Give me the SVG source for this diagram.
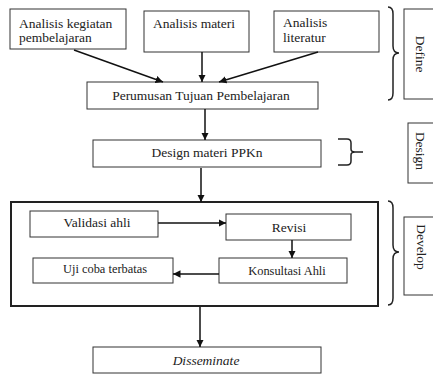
<svg xmlns="http://www.w3.org/2000/svg" width="433" height="374" viewBox="0 0 433 374">
<defs>
<marker id="ah" viewBox="0 0 10 10" refX="10" refY="5" markerWidth="5" markerHeight="5" orient="auto" markerUnits="strokeWidth">
<path d="M0,0 L10,5 L0,10 z" fill="#111"/>
</marker>
<style>
.box{fill:#fff;stroke:#333;stroke-width:1}
.big{fill:none;stroke:#222;stroke-width:2}
.t{font-family:"Liberation Serif","Times New Roman",serif;font-size:13.5px;fill:#222}
.s{font-size:12.4px}
.c{text-anchor:middle}
.arr{stroke:#111;stroke-width:1.5;fill:none;marker-end:url(#ah)}
.br{stroke:#222;stroke-width:1.5;fill:none}
</style>
</defs>
<rect width="433" height="374" fill="#fff"/>

<g id="analisis-kegiatan">
<rect class="box" x="10" y="9" width="116" height="40"/>
<text class="t" x="19" y="28">Analisis kegiatan</text>
<text class="t" x="19" y="42">pembelajaran</text>
</g>
<g id="analisis-materi">
<rect class="box" x="144" y="11" width="105" height="41"/>
<text class="t" x="153" y="28">Analisis materi</text>
</g>
<g id="analisis-literatur">
<rect class="box" x="274" y="11" width="105" height="41"/>
<text class="t" x="283" y="27">Analisis</text>
<text class="t" x="283" y="42">literatur</text>
</g>
<g id="perumusan">
<rect class="box" x="87" y="82" width="231" height="27"/>
<text class="t c" x="201" y="100">Perumusan Tujuan Pembelajaran</text>
</g>
<g id="design-materi">
<rect class="box" x="93" y="140" width="228" height="27"/>
<text class="t c" x="207" y="157">Design materi PPKn</text>
</g>
<g id="develop-group">
<rect class="big" x="11" y="202" width="367" height="104"/>
</g>
<g id="validasi">
<rect class="box" x="30" y="211" width="128" height="26"/>
<text class="t c" x="97" y="227">Validasi ahli</text>
</g>
<g id="revisi">
<rect class="box" x="226" y="214" width="125" height="26"/>
<text class="t c" x="289" y="232">Revisi</text>
</g>
<g id="konsultasi">
<rect class="box" x="219" y="258" width="128" height="25"/>
<text class="t s c" x="287" y="275">Konsultasi Ahli</text>
</g>
<g id="uji-coba">
<rect class="box" x="33" y="258" width="140" height="25"/>
<text class="t s c" x="105" y="273">Uji coba terbatas</text>
</g>
<g id="disseminate">
<rect class="box" x="93" y="347" width="228" height="26"/>
<text class="t c" x="206" y="365" font-style="italic">Disseminate</text>
</g>

<g id="define-label">
<path class="br" d="M388,7 Q393,7 393,14 L393,46 Q393,53 399,53 Q393,53 393,60 L393,93 Q393,100 388,100"/>
<rect class="box" x="404" y="9" width="40" height="90"/>
<text class="t c" transform="translate(416,54) rotate(90)">Define</text>
</g>
<g id="design-label">
<path class="br" d="M338,139 L347,139 Q351,139 351,143 L351,149 Q351,152 355,152 L363,152 M355,152 Q351,152 351,155 L351,161 Q351,165 347,165 L338,165"/>
<rect class="box" x="408" y="123" width="40" height="60"/>
<text class="t c" transform="translate(416,151) rotate(90)">Design</text>
</g>
<g id="develop-label">
<path class="br" d="M388,201 Q393,201 393,208 L393,245 Q393,252 399,252 Q393,252 393,259 L393,298 Q393,305 388,305"/>
<rect class="box" x="404" y="217" width="40" height="78"/>
<text class="t c" transform="translate(417,247) rotate(90)">Develop</text>
</g>

<g id="connectors">
<line class="arr" x1="74" y1="50" x2="163" y2="82"/>
<line class="arr" x1="202" y1="52" x2="202" y2="82"/>
<line class="arr" x1="318" y1="52" x2="219" y2="82"/>
<line class="arr" x1="205" y1="109" x2="205" y2="140"/>
<line class="arr" x1="201" y1="168" x2="201" y2="202"/>
<line class="arr" x1="158" y1="223" x2="226" y2="223"/>
<line class="arr" x1="292" y1="240" x2="292" y2="258"/>
<line class="arr" x1="219" y1="274" x2="173" y2="274"/>
<line class="arr" x1="200" y1="307" x2="200" y2="347"/>
</g>
</svg>
